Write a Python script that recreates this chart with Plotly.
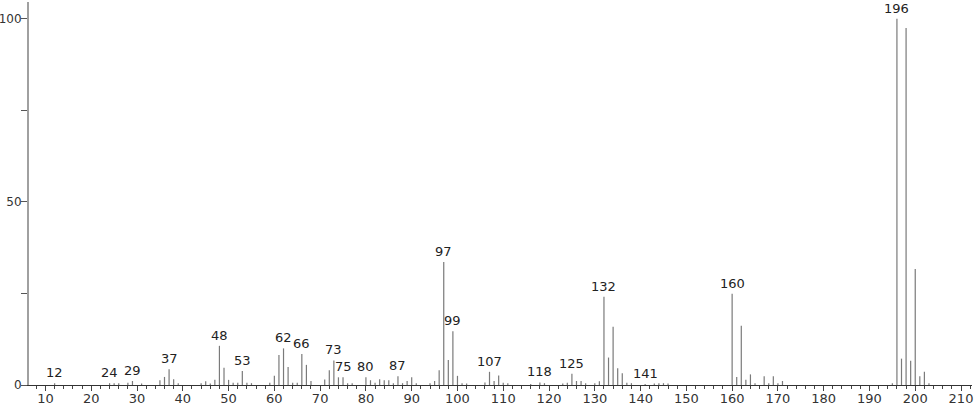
import plotly.graph_objects as go

# m/z values and relative intensities
mz = [12, 24, 25, 26, 28, 29, 31, 35, 36, 37, 38, 39, 44, 45, 46, 47, 48, 49, 50, 51,
      52, 53, 54, 55, 59, 60, 61, 62, 63, 64, 65, 66, 67, 68, 71, 72, 73, 74, 75, 76,
      77, 80, 81, 82, 83, 84, 85, 86, 87, 88, 89, 90, 91, 94, 95, 96, 97, 98, 99, 100,
      101, 102, 106, 107, 108, 109, 110, 111, 116, 118, 119, 123, 124, 125, 126, 127, 128, 130, 131, 132,
      133, 134, 135, 136, 137, 138, 141, 143, 144, 145, 146, 160, 161, 162, 163, 164, 165, 167,
      168, 169, 170, 171, 195, 196, 197, 198, 199, 200, 201, 202, 203]
intensity = [0.5, 0.5, 0.5, 0.5, 0.6, 1.1, 0.4, 1.3, 2.2, 4.3, 1.6, 0.5, 0.5, 1.0, 0.4, 1.4, 10.7, 4.7, 1.4, 0.6,
             0.6, 3.8, 0.6, 0.5, 0.6, 2.5, 8.2, 10.0, 4.9, 0.6, 0.6, 8.5, 5.5, 1.1, 1.5, 4.0, 6.7, 2.1, 2.1, 0.5,
             0.5, 2.1, 1.3, 0.6, 1.6, 1.3, 1.3, 0.5, 2.4, 0.5, 1.1, 2.1, 0.5, 0.5, 1.1, 4.0, 33.6, 6.8, 14.7, 2.5,
             0.5, 0.4, 0.7, 3.6, 1.1, 2.6, 0.6, 0.5, 0.3, 0.7, 0.5, 0.4, 0.6, 3.1, 1.1, 1.1, 0.5, 0.5, 1.0, 24.1,
             7.5, 15.9, 4.6, 3.2, 0.6, 0.5, 0.3, 0.4, 0.5, 0.5, 0.4, 24.9, 2.2, 16.2, 1.4, 2.9, 0.5, 2.4,
             0.5, 2.4, 0.5, 1.1, 0.5, 100.0, 7.2, 97.5, 6.6, 31.7, 2.4, 3.6, 0.5]

labelled = [12, 24, 29, 37, 48, 53, 62, 66, 73, 75, 80, 87, 97, 99, 107, 118, 125, 132, 141, 160, 196]

xs, ys = [], []
for m, h in zip(mz, intensity):
    xs += [m, m, None]
    ys += [0, h, None]

fig = go.Figure()
fig.add_trace(go.Scatter(x=xs, y=ys, mode="lines",
                         line=dict(color="#7a7a7a", width=1.2),
                         hoverinfo="skip", showlegend=False))

peak = dict(zip(mz, intensity))
for m in labelled:
    fig.add_annotation(x=m, y=peak[m], text=str(m), showarrow=False,
                       yanchor="bottom", yshift=1,
                       font=dict(size=13, color="#222"))

fig.update_xaxes(range=[6.4, 212.4], showgrid=False, zeroline=False, automargin=False,
                 showline=True, linecolor="#333", linewidth=1,
                 ticks="outside", ticklen=5, tickcolor="#444", tickwidth=1,
                 tick0=0, dtick=10, ticklabelstandoff=-4, ticklabeloverflow="allow",
                 minor=dict(ticks="outside", ticklen=3, dtick=2, tick0=0, tickcolor="#444"),
                 tickfont=dict(size=13, color="#333"))
fig.update_yaxes(range=[0, 104.6], showgrid=False, zeroline=False, automargin=False,
                 showline=True, linecolor="#a0a0a0", linewidth=2,
                 ticks="outside", ticklen=6, tickcolor="#555",
                 tickvals=[0, 50, 100], ticklabelstandoff=-3, ticklabeloverflow="allow",
                 minor=dict(ticks="outside", ticklen=6, tickvals=[25, 75], tickcolor="#555"),
                 tickfont=dict(size=12, color="#333"))
fig.update_layout(width=974, height=406, plot_bgcolor="white", paper_bgcolor="white",
                  margin=dict(l=29, r=2, t=2, b=21),
                  font=dict(family="DejaVu Sans, sans-serif"))
# drop the default page margin so the figure sits at the window's corner
fig.write_html("out.html", config={"displayModeBar": False},
               post_script="document.body.style.margin='0';")
